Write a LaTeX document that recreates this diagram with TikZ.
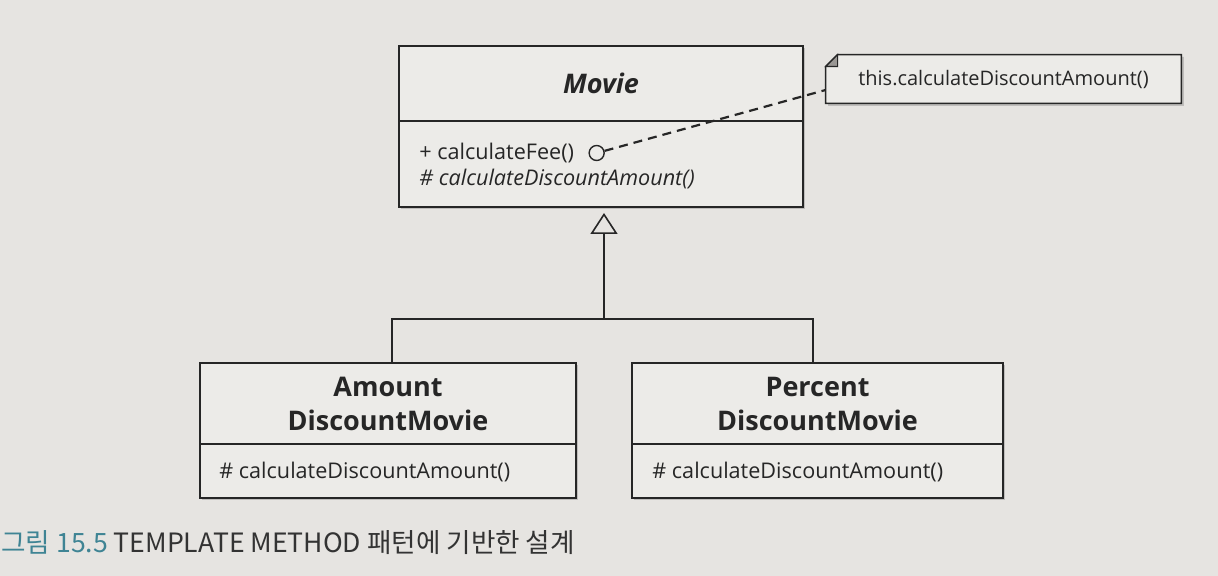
\documentclass[tikz,border=0pt]{standalone}
\usepackage{fontspec}
\setmainfont{Open Sans}
\newfontfamily\korfont{Noto Sans CJK KR}
\usepackage{xcolor}
\usetikzlibrary{arrows.meta,positioning,shadows,backgrounds}

\definecolor{paper}{HTML}{E6E4E1}
\definecolor{boxfill}{HTML}{ECEBE8}
\definecolor{ink}{HTML}{262626}
\definecolor{earfill}{HTML}{9A9794}
\definecolor{capblue}{HTML}{3F8494}
\definecolor{captext}{HTML}{333333}

\begin{document}
\begin{tikzpicture}[
    x=0.5pt, y=-0.5pt,
    cls/.style={rectangle, draw=ink, line width=0.8pt, fill=boxfill, inner sep=0pt, outer sep=0pt,
        drop shadow={shadow xshift=1.2pt, shadow yshift=-1.2pt, opacity=0.3, fill=black!60}},
    clsname/.style={font=\fontsize{13.5}{17}\selectfont\bfseries, align=center, text=ink},
    meth/.style={font=\fontsize{10.8}{13}\selectfont, inner sep=0pt, anchor=west, text=ink},
    gen/.style={draw=ink, line width=0.8pt}
]
    \useasboundingbox (0,0) rectangle (1218,576);
    \begin{scope}[on background layer]
        \fill[paper] (0,0) rectangle (1218,576);
    \end{scope}

    % abstract class
    \node[cls, clsname, minimum width=202pt, minimum height=37.5pt] (movieT) at (601,83.5) {\textit{Movie}};
    \node[cls, minimum width=202pt, minimum height=43pt, below=0pt of movieT] (movieB) {};
    \node[meth] (fee) at (419,153) {+ calculateFee()};
    \node[meth] (disc) at (419,179) {\textit{\# calculateDiscountAmount()}};
    \node[circle, draw=ink, line width=0.7pt, minimum size=7.5pt, inner sep=0pt, right=7pt of fee] (hook) {};

    % note
    \node[meth, font=\fontsize{10}{12}\selectfont, anchor=center, minimum width=177.5pt, minimum height=24pt] (note)
        at (1003.5,79) {this.calculateDiscountAmount()};
    \begin{scope}[on background layer]
        \filldraw[draw=ink, line width=0.8pt, fill=boxfill,
            drop shadow={shadow xshift=1.2pt, shadow yshift=-1.2pt, opacity=0.3, fill=black!60}]
            (note.south west) -- ([yshift=-6pt]note.north west) -- ([xshift=6pt]note.north west)
            -- (note.north east) -- (note.south east) -- cycle;
        \filldraw[draw=ink, line width=0.6pt, fill=earfill]
            ([yshift=-6pt]note.north west) -- ([xshift=6pt, yshift=-6pt]note.north west)
            -- ([xshift=6pt]note.north west) -- cycle;
    \end{scope}
    \draw[ink, line width=1.1pt, dash pattern=on 4.5pt off 3pt] (hook.15) -- ([yshift=-5.5pt]note.west);

    % subclasses
    \node[cls, clsname, minimum width=188pt, minimum height=40.5pt] (amountT) at (388,403.5) {Amount\\DiscountMovie};
    \node[cls, minimum width=188pt, minimum height=27pt, below=0pt of amountT] (amountB) {};
    \node[meth] (amountM) at (219,472) {\# calculateDiscountAmount()};

    \node[cls, clsname, minimum width=185.5pt, minimum height=40.5pt] (percentT) at (817.5,403.5) {Percent\\DiscountMovie};
    \node[cls, minimum width=185.5pt, minimum height=27pt, below=0pt of percentT] (percentB) {};
    \node[meth] (percentM) at (652,472) {\# calculateDiscountAmount()};

    % generalization
    \coordinate (join) at (604,319);
    \draw[gen] (amountT.north -| 392,0) |- (join) -| (percentT.north -| 813,0);
    \draw[gen, -{Triangle[open, length=10.5pt, width=13.5pt, line width=0.8pt]}]
        (join) -- ([yshift=-3pt]movieB.south -| join);

    % caption
    \node[font=\korfont\fontsize{13.3}{15}\selectfont, anchor=west, inner sep=0pt, text=captext] (caption) at (1,543)
        {\textcolor{capblue}{그림 15.5} TEMPLATE METHOD 패턴에 기반한 설계};
\end{tikzpicture}
\end{document}
